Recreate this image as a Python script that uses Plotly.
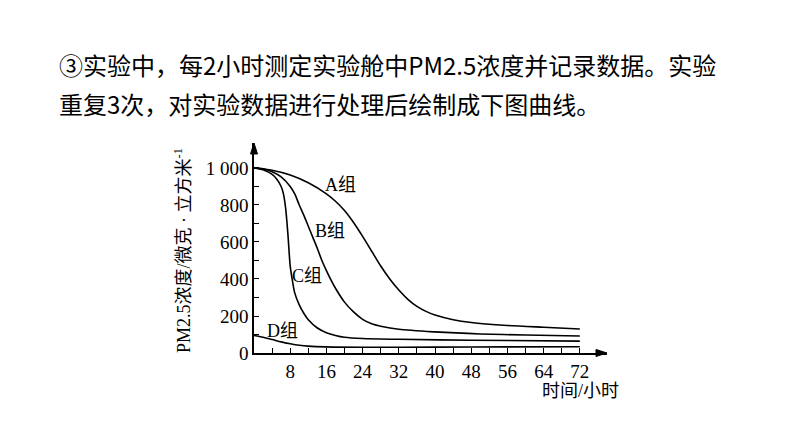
import plotly.graph_objects as go

# ---- data ----
hours_A = [0, 4, 8, 12, 16, 18, 20, 22, 24, 26, 28, 30, 32, 34, 36, 38, 40, 44, 48, 56, 64, 72]
pm_A = [1000, 988, 962, 920, 860, 820, 770, 705, 630, 550, 470, 400, 340, 290, 252, 225, 205, 180, 165, 149, 139, 130]

hours_B = [0, 2, 4, 6, 8, 9, 10, 11, 12, 13, 14, 15, 16, 17, 18, 20, 22, 24, 26, 28, 32, 40, 50, 60, 72]
pm_B = [1000, 996, 980, 952, 900, 860, 800, 745, 685, 625, 565, 500, 445, 395, 350, 275, 222, 182, 158, 145, 128, 114, 103, 97, 92]

hours_C = [0, 2, 4, 5, 6, 6.5, 7, 7.5, 8, 8.5, 9, 10, 11, 12, 14, 16, 18, 20, 24, 32, 48, 72]
pm_C = [1000, 990, 965, 940, 900, 860, 780, 640, 470, 390, 325, 260, 215, 180, 135, 110, 95, 85, 78, 74, 69, 64]

hours_D = [0, 2, 4, 6, 8, 10, 12, 16, 24, 40, 56, 72]
pm_D = [95, 85, 73, 60, 50, 42, 37, 33, 31, 32, 33, 34]

series = [("A组", hours_A, pm_A), ("B组", hours_B, pm_B), ("C组", hours_C, pm_C), ("D组", hours_D, pm_D)]

# curve label positions (hour, value)
label_names = ["A组", "B组", "C组", "D组"]
label_x = [19.2, 16.8, 11.7, 6.4]
label_y = [908, 659, 416, 119]

x_tickvals = list(range(0, 73, 4))
x_ticktext = [str(v) if (v % 8 == 0 and v > 0) else "" for v in x_tickvals]
y_tickvals = list(range(0, 1001, 100))
y_ticktext = ["1 000" if v == 1000 else (str(v) if v % 200 == 0 else "") for v in y_tickvals]

SERIF = "Liberation Serif, Noto Sans CJK SC"
CJK = "Noto Sans CJK SC"

PW, PH = 353.0, 210.0  # plot area size in px (for arrowhead shapes)

fig = go.Figure()
for name, xs, ys in series:
    fig.add_trace(go.Scatter(x=xs, y=ys, mode="lines", name=name,
                             line=dict(color="black", width=1.6, shape="spline", smoothing=0.8),
                             showlegend=False, hoverinfo="skip"))

for n, lx, ly in zip(label_names, label_x, label_y):
    fig.add_annotation(x=lx, y=ly, xref="x", yref="y", text=n, showarrow=False,
                       xanchor="center", yanchor="middle",
                       font=dict(family=SERIF, size=18, color="black"))

# axis arrowheads
ah_len, ah_half = 11.0, 3.5
fig.add_shape(type="path", xref="paper", yref="paper", fillcolor="black", line=dict(color="black", width=1),
              path=f"M 1 0 L {1 - ah_len/PW} {ah_half/PH} L {1 - ah_len/PW} {-ah_half/PH} Z")
fig.add_shape(type="path", xref="paper", yref="paper", fillcolor="black", line=dict(color="black", width=1),
              path=f"M 0 1 L {ah_half/PW} {1 - ah_len/PH} L {-ah_half/PW} {1 - ah_len/PH} Z")

# axis titles
fig.add_annotation(x=-0.201, y=0.486, xref="paper", yref="paper", xanchor="center", yanchor="middle",
                   text="PM2.5浓度/微克 · 立方米<sup>-1</sup>", textangle=-90, showarrow=False,
                   font=dict(family=SERIF, size=18, color="black"))
fig.add_annotation(x=0.924, y=-0.182, xref="paper", yref="paper", xanchor="center", yanchor="middle",
                   text="时间/小时", showarrow=False, font=dict(family=SERIF, size=18, color="black"))

# header text
fig.add_annotation(x=-0.558, y=1.376, xref="paper", yref="paper", xanchor="left", yanchor="middle",
                   text="③实验中，每2小时测定实验舱中PM2.5浓度并记录数据。实验",
                   showarrow=False, font=dict(family=CJK, size=24, color="black"))
fig.add_annotation(x=-0.558, y=1.186, xref="paper", yref="paper", xanchor="left", yanchor="middle",
                   text="重复3次，对实验数据进行处理后绘制成下图曲线。",
                   showarrow=False, font=dict(family=CJK, size=24, color="black"))

fig.update_layout(
    width=794, height=447,
    margin=dict(l=254, r=187, t=143, b=94),
    paper_bgcolor="white", plot_bgcolor="white",
    xaxis=dict(range=[0, 78], showgrid=False, zeroline=False, showline=True,
               linecolor="black", linewidth=1.5, ticks="inside", ticklen=5, tickwidth=1.2,
               tickcolor="black", tickvals=x_tickvals, ticktext=x_ticktext,
               tickfont=dict(family=SERIF, size=19, color="black")),
    yaxis=dict(range=[0, 1135], showgrid=False, zeroline=False, showline=True,
               linecolor="black", linewidth=1.5, ticks="inside", ticklen=5, tickwidth=1.2,
               tickcolor="black", tickvals=y_tickvals, ticktext=y_ticktext,
               tickfont=dict(family=SERIF, size=19, color="black")),
)

fig.write_html("out.html")
